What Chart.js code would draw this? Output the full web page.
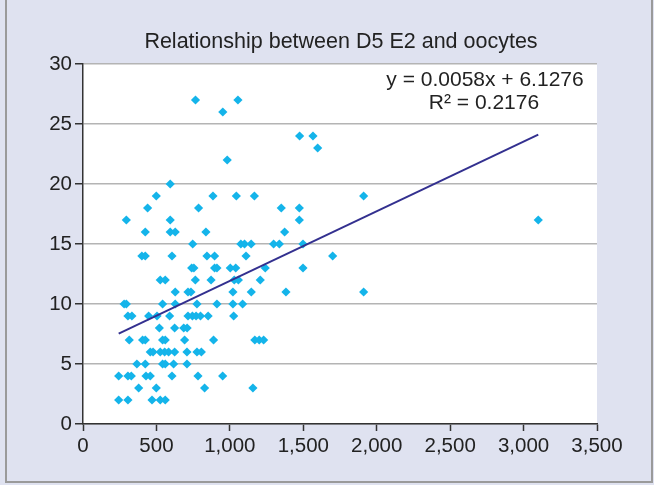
<!DOCTYPE html>
<html>
<head>
<meta charset="utf-8">
<script src="https://cdn.jsdelivr.net/npm/chart.js@4/dist/chart.umd.min.js"></script>
<style>
  html, body { margin: 0; padding: 0; background: #dfe2f0; }
  #wrap { width: 654px; height: 485px; }
</style>
</head>
<body>
<div id="wrap"><canvas id="chart" width="654" height="485"></canvas></div>
<script>
// D5 E2 (x) vs oocytes (y)
const e2Values = [
  766, 1055,
  952,
  1475, 1566,
  1598,
  982,
  594,
  499, 885, 1044, 1167, 1911,
  440, 787, 1350, 1473,
  295, 594, 1473, 3100,
  424, 594, 628, 837, 1373,
  747, 1075, 1100, 1145, 1298, 1337, 1498,
  401, 424, 606, 844, 896, 1110, 1700,
  740, 755, 896, 912, 1003, 1040, 1241, 1498,
  526, 560, 765, 872, 1030, 1058, 1207,
  628, 715, 735, 1021, 1146, 1382, 1911,
  280, 295, 542, 628, 776, 912, 1021, 1087,
  306, 333, 447, 504, 590, 715, 745, 770, 800, 852, 1026,
  520, 624, 686, 709,
  315, 406, 424, 542, 560, 692, 889, 1170, 1200, 1230,
  458, 477, 526, 556, 583, 624, 708, 776, 806,
  367, 424, 542, 560, 617, 708,
  243, 306, 329, 429, 458, 606, 783, 951,
  379, 499, 828, 1157,
  243, 306, 470, 526, 560
];
const oocyteValues = [
  27, 27,
  26,
  24, 24,
  23,
  22,
  20,
  19, 19, 19, 19, 19,
  18, 18, 18, 18,
  17, 17, 17, 17,
  16, 16, 16, 16, 16,
  15, 15, 15, 15, 15, 15, 15,
  14, 14, 14, 14, 14, 14, 14,
  13, 13, 13, 13, 13, 13, 13, 13,
  12, 12, 12, 12, 12, 12, 12,
  11, 11, 11, 11, 11, 11, 11,
  10, 10, 10, 10, 10, 10, 10, 10,
  9, 9, 9, 9, 9, 9, 9, 9, 9, 9, 9,
  8, 8, 8, 8,
  7, 7, 7, 7, 7, 7, 7, 7, 7, 7,
  6, 6, 6, 6, 6, 6, 6, 6, 6,
  5, 5, 5, 5, 5, 5,
  4, 4, 4, 4, 4, 4, 4, 4,
  3, 3, 3, 3,
  2, 2, 2, 2, 2
];
const xTicks = [0, 500, 1000, 1500, 2000, 2500, 3000, 3500];
const yTicks = [0, 5, 10, 15, 20, 25, 30];
const slope = 0.0058;
const intercept = 6.1276;
const rSquared = 0.2176;

const points = e2Values.map((x, i) => ({ x: x, y: oocyteValues[i] }));
const xMin = Math.min(...e2Values);
const xMax = Math.max(...e2Values);
const trend = [
  { x: xMin, y: slope * xMin + intercept },
  { x: xMax, y: slope * xMax + intercept }
];

const FONT = "'Liberation Sans', Arial, sans-serif";
const TEXT = "#222";

const frame = {
  id: "frame",
  beforeDraw(chart) {
    const ctx = chart.ctx;
    const a = chart.chartArea;
    ctx.save();
    ctx.fillStyle = "#dfe2f0";
    ctx.fillRect(0, 0, chart.width, chart.height);
    ctx.strokeStyle = "#9a9a9a";
    ctx.lineWidth = 2;
    ctx.strokeRect(6, -2, chart.width - 8, chart.height - 1);
    ctx.fillStyle = "#ffffff";
    ctx.fillRect(a.left, a.top, a.right - a.left, a.bottom - a.top);
    ctx.restore();
  },
  afterDraw(chart) {
    const ctx = chart.ctx;
    ctx.save();
    ctx.fillStyle = TEXT;
    ctx.textAlign = "center";
    ctx.textBaseline = "middle";
    ctx.font = "21.5px " + FONT;
    ctx.fillText("Relationship between D5 E2 and oocytes", 341, 42);
    ctx.font = "21px " + FONT;
    ctx.fillText("y = " + slope.toFixed(4) + "x + " + intercept.toFixed(4), 485, 80);
    ctx.fillText("R\u00B2 = " + rSquared.toFixed(4), 484, 103);
    ctx.restore();
  }
};

new Chart(document.getElementById("chart").getContext("2d"), {
  data: {
    datasets: [{
      type: "scatter",
      data: points,
      pointStyle: "rectRot",
      pointRadius: 4.6,
      backgroundColor: "#14b4ea",
      borderColor: "#14b4ea",
      borderWidth: 0,
      order: 2
    }, {
      type: "line",
      data: trend,
      borderColor: "#33308f",
      borderWidth: 2,
      pointRadius: 0,
      fill: false,
      order: 1
    }]
  },
  plugins: [frame],
  options: {
    responsive: false,
    animation: false,
    layout: { padding: { top: 64, right: 57, left: 0, bottom: 0 } },
    plugins: {
      legend: { display: false },
      tooltip: { enabled: false },
      title: { display: false }
    },
    scales: {
      x: {
        type: "linear",
        min: 0,
        max: 3500,
        afterBuildTicks: s => { s.ticks = xTicks.map(v => ({ value: v })); },
        afterFit: s => { s.height = 61; },
        grid: { drawOnChartArea: false, tickLength: 7, tickColor: "#333", tickWidth: 1.5 },
        border: { color: "#333", width: 1.5 },
        ticks: {
          color: TEXT,
          padding: 3,
          font: { family: FONT, size: 20.5 },
          callback: v => v.toLocaleString("en-US")
        }
      },
      y: {
        type: "linear",
        min: 0,
        max: 30,
        afterBuildTicks: s => { s.ticks = yTicks.map(v => ({ value: v })); },
        afterFit: s => { s.width = 83; },
        grid: { color: "#b4b4b4", lineWidth: 1.5, tickLength: 8, tickColor: "#333", tickWidth: 1.5 },
        border: { color: "#333", width: 1.5 },
        ticks: {
          color: TEXT,
          padding: 3,
          font: { family: FONT, size: 20.5 }
        }
      }
    }
  }
});
</script>
</body>
</html>
